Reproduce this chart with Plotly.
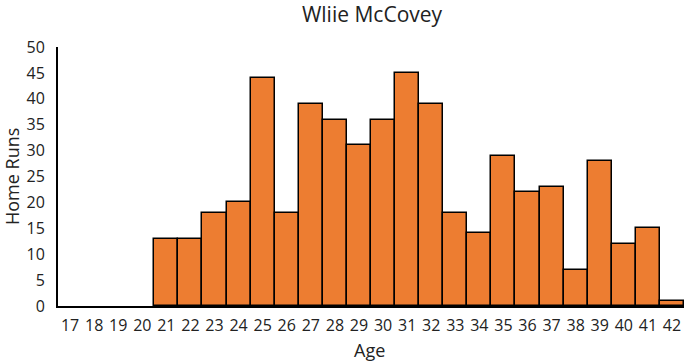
import plotly.graph_objects as go

ages = [str(a) for a in range(17, 43)]
home_runs = [0, 0, 0, 0, 13, 13, 18, 20, 44, 18, 39, 36, 31, 36, 45, 39, 18, 14, 29, 22, 23, 7, 28, 12, 15, 1]
y_ticks = [0, 5, 10, 15, 20, 25, 30, 35, 40, 45, 50]

FONT = "Open Sans, Liberation Sans, sans-serif"
outline_widths = [1.5 if v > 0 else 0 for v in home_runs]

W, H = 685, 362
L, R, T, B = 58, 1, 47, 56
plot_w = W - L - R
plot_h = H - T - B

fig = go.Figure(go.Bar(
    x=ages, y=home_runs,
    marker=dict(color="#ED7D31", line=dict(color="black", width=outline_widths)),
))
fig.update_layout(
    width=W, height=H,
    margin=dict(l=L, r=R, t=T, b=B, autoexpand=False),
    paper_bgcolor="white", plot_bgcolor="white",
    bargap=0,
    font=dict(family=FONT, size=16, color="#222"),
    title=dict(text="Wliie McCovey", x=372 / W, xanchor="center", y=1 - 15 / H, yanchor="middle",
               yref="container", xref="container", font=dict(size=21, color="#222")),
    showlegend=False,
    annotations=[
        dict(text="Home Runs", x=(12 - L) / plot_w, y=(H - B - 177) / plot_h,
             xref="paper", yref="paper", showarrow=False,
             textangle=-90, font=dict(size=18, color="#222"), xanchor="center", yanchor="middle"),
        dict(text="Age", x=(369 - L) / plot_w, y=-(350 - (H - B)) / plot_h,
             xref="paper", yref="paper", showarrow=False,
             font=dict(size=18, color="#222"), xanchor="center", yanchor="middle"),
    ],
)

fig.update_xaxes(
    type="category", showline=True, linecolor="black", linewidth=2,
    showgrid=False, ticks="", tickfont=dict(size=16), automargin=False,
    ticklabelstandoff=4,
)
fig.update_yaxes(
    range=[0, 50], tickvals=y_ticks, showline=True, linecolor="black", linewidth=2,
    showgrid=False, ticks="", tickfont=dict(size=16), zeroline=False, automargin=False,
    ticklabelstandoff=8,
)
fig.write_html("out.html", config={"displayModeBar": False},
               post_script="document.body.style.margin='0';document.body.style.overflow='hidden';")
